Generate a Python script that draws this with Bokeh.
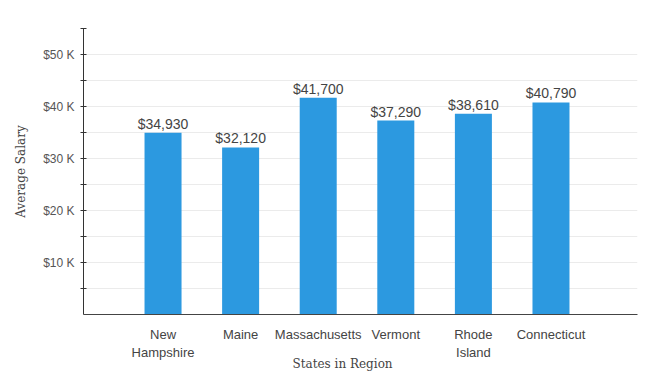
from bokeh.plotting import figure
from bokeh.models import ColumnDataSource, FixedTicker, Range1d, Title
from bokeh.core.properties import value
from bokeh.embed import file_html
from bokeh.resources import INLINE

states = ["New\nHampshire", "Maine", "Massachusetts", "Vermont", "Rhode\nIsland", "Connecticut"]
salaries = [34930, 32120, 41700, 37290, 38610, 40790]
y_major = [10000, 20000, 30000, 40000, 50000]
y_minor = [5000, 15000, 25000, 35000, 45000, 55000]
y_labels = ["$10 K", "$20 K", "$30 K", "$40 K", "$50 K"]

xs = list(range(len(states)))
src = ColumnDataSource(dict(
    x=xs, top=salaries,
    label=["${:,}".format(v) for v in salaries],
))

p = figure(width=646, height=377, output_backend="svg", toolbar_location=None,
           x_range=Range1d(-1.025, 6.115), y_range=Range1d(0, 55000),
           min_border_left=83, min_border_right=9, min_border_top=28, min_border_bottom=63)
p.outline_line_color = None
p.background_fill_color = "white"
p.border_fill_color = "white"

p.vbar(x="x", top="top", width=0.477, bottom=0, source=src,
       fill_color="#2C99E0", line_color=None)
p.text(x="x", y="top", text="label", source=src, text_align="center",
       text_baseline="bottom", y_offset=-1, text_font_size="14px",
       text_font=value("Liberation Sans"), text_color="#444444")

# x axis
xa = p.xaxis[0]
xa.ticker = FixedTicker(ticks=xs)
xa.major_label_overrides = {i: s for i, s in zip(xs, states)}
xa.major_tick_line_color = None
xa.minor_tick_line_color = None
xa.axis_line_color = "#444444"
xa.major_label_text_font = "Liberation Sans"
xa.major_label_text_font_size = "13px"
xa.major_label_text_color = "#444444"
xa.major_label_standoff = 6
xa.major_label_text_line_height = 1.2

# y axis
ya = p.yaxis[0]
ya.ticker = FixedTicker(ticks=y_major, minor_ticks=y_minor)
ya.major_label_overrides = {t: l for t, l in zip(y_major, y_labels)}
ya.axis_line_color = "#333333"
ya.major_tick_line_color = "#333333"
ya.minor_tick_line_color = "#333333"
ya.major_tick_in = 3
ya.major_tick_out = 3
ya.minor_tick_in = 3
ya.minor_tick_out = 3
ya.major_label_text_font = "Liberation Sans"
ya.major_label_text_font_size = "12px"
ya.major_label_text_color = "#555555"
ya.major_label_standoff = 6
ya.axis_label = "Average Salary"
ya.axis_label_text_font = "DejaVu Serif"
ya.axis_label_text_font_size = "12px"
ya.axis_label_text_font_style = "normal"
ya.axis_label_text_color = "#444444"
ya.axis_label_standoff = 12

p.xgrid.grid_line_color = None
p.ygrid.grid_line_color = "#ebebeb"
p.ygrid.minor_grid_line_color = "#ebebeb"

p.add_layout(Title(text="States in Region", align="left", offset=209, standoff=-16,
                   text_font="DejaVu Serif", text_font_size="12px",
                   text_font_style="normal", text_color="#444444"), "below")

open("out.html", "w").write(file_html(p, INLINE))
